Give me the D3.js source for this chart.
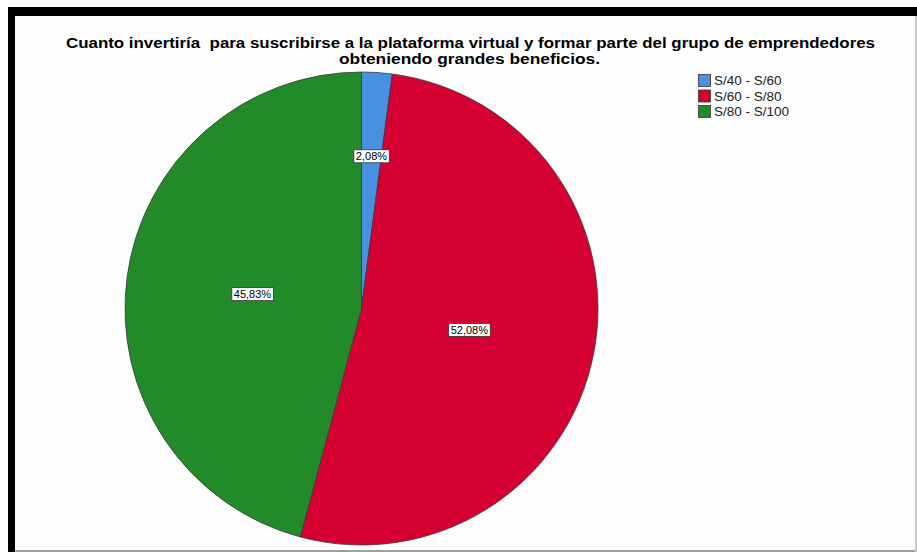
<!DOCTYPE html>
<html>
<head>
<meta charset="utf-8">
<script src="https://cdn.jsdelivr.net/npm/d3@7"></script>
<style>
  html, body { margin: 0; padding: 0; background: #ffffff; }
  svg { display: block; }
  text { white-space: pre; }
</style>
</head>
<body>
<svg id="chart" width="917" height="552"></svg>
<script>
// ---- data ----
const categories = ["S/40 - S/60", "S/60 - S/80", "S/80 - S/100"];
const values = [2.08, 52.08, 45.83];
const labels = ["2,08%", "52,08%", "45,83%"];
const colors = ["#4a90e2", "#d50032", "#238a2a"];
const titleLines = [
  "Cuanto invertiría  para suscribirse a la plataforma virtual y formar parte del grupo de emprendedores",
  "obteniendo grandes beneficios."
];

const W = 917, H = 552;
const svg = d3.select("#chart");

// frame
svg.append("rect").attr("x", 0).attr("y", 0).attr("width", W).attr("height", H).attr("fill", "#ffffff");
svg.append("rect").attr("x", 15).attr("y", 16).attr("width", 901).attr("height", 534).attr("fill", "#fdfdfd");
svg.append("rect").attr("x", 8).attr("y", 7).attr("width", 909).attr("height", 9).attr("fill", "#000000");
svg.append("rect").attr("x", 8).attr("y", 7).attr("width", 7).attr("height", 545).attr("fill", "#000000");
svg.append("rect").attr("x", 15).attr("y", 550).attr("width", 902).attr("height", 2).attr("fill", "#a0a0a0");
svg.append("rect").attr("x", 915).attr("y", 16).attr("width", 2).attr("height", 536).attr("fill", "#c8c8c8");

// title
const title = svg.append("g").attr("font-family", "'Liberation Sans', Arial, sans-serif")
  .attr("font-weight", "bold").attr("font-size", 14).attr("fill", "#000");
title.append("text").attr("x", 470.5).attr("y", 47.5).attr("text-anchor", "middle")
  .attr("textLength", 809).attr("lengthAdjust", "spacingAndGlyphs").text(titleLines[0]);
title.append("text").attr("x", 469.5).attr("y", 63.5).attr("text-anchor", "middle")
  .attr("textLength", 261).attr("lengthAdjust", "spacingAndGlyphs").text(titleLines[1]);

// pie
const cx = 361.5, cy = 308.5, R = 236.5;
const pie = d3.pie().sort(null).value(d => d);
const arcs = pie(values);
const arc = d3.arc().innerRadius(0).outerRadius(R);
const g = svg.append("g").attr("transform", `translate(${cx},${cy})`);
g.selectAll("path.slice").data(arcs).enter().append("path")
  .attr("class", "slice")
  .attr("d", arc)
  .attr("fill", (d, i) => colors[i])
  .attr("stroke", "#3a3a3a").attr("stroke-width", 0.8);

// labels
const lab = g.selectAll("g.lab").data(arcs).enter().append("g").attr("class", "lab")
  .attr("transform", d => {
    const frac = (d.endAngle - d.startAngle) / (2 * Math.PI);
    const rr = frac < 0.05 ? R * 0.645 : R * 0.465;
    const a = (d.startAngle + d.endAngle) / 2;
    return `translate(${rr * Math.sin(a)},${-rr * Math.cos(a)})`;
  });
lab.each(function(d, i) {
  const sel = d3.select(this);
  const t = sel.append("text").attr("text-anchor", "middle").attr("dy", "0.36em")
    .attr("font-family", "'Liberation Sans', Arial, sans-serif").attr("font-size", 11)
    .attr("fill", "#000").text(labels[i]);
  const bb = t.node().getBBox();
  sel.insert("rect", "text")
    .attr("x", bb.x - 2).attr("y", -6.5).attr("width", bb.width + 4).attr("height", 13)
    .attr("fill", "#ffffff").attr("stroke", "#333").attr("stroke-width", 0.8);
});

// legend
const leg = svg.append("g").attr("transform", "translate(698,74)");
const items = leg.selectAll("g").data(categories).enter().append("g")
  .attr("transform", (d, i) => `translate(0,${i * 15.5})`);
items.append("rect").attr("x", 0.5).attr("y", 0.5).attr("width", 12).attr("height", 12)
  .attr("fill", (d, i) => colors[i]).attr("stroke", "#333").attr("stroke-width", 0.8);
items.append("text").attr("x", 16).attr("y", 11)
  .attr("font-family", "'Liberation Sans', Arial, sans-serif").attr("font-size", 13.5)
  .attr("fill", "#222").text(d => d);
</script>
</body>
</html>
